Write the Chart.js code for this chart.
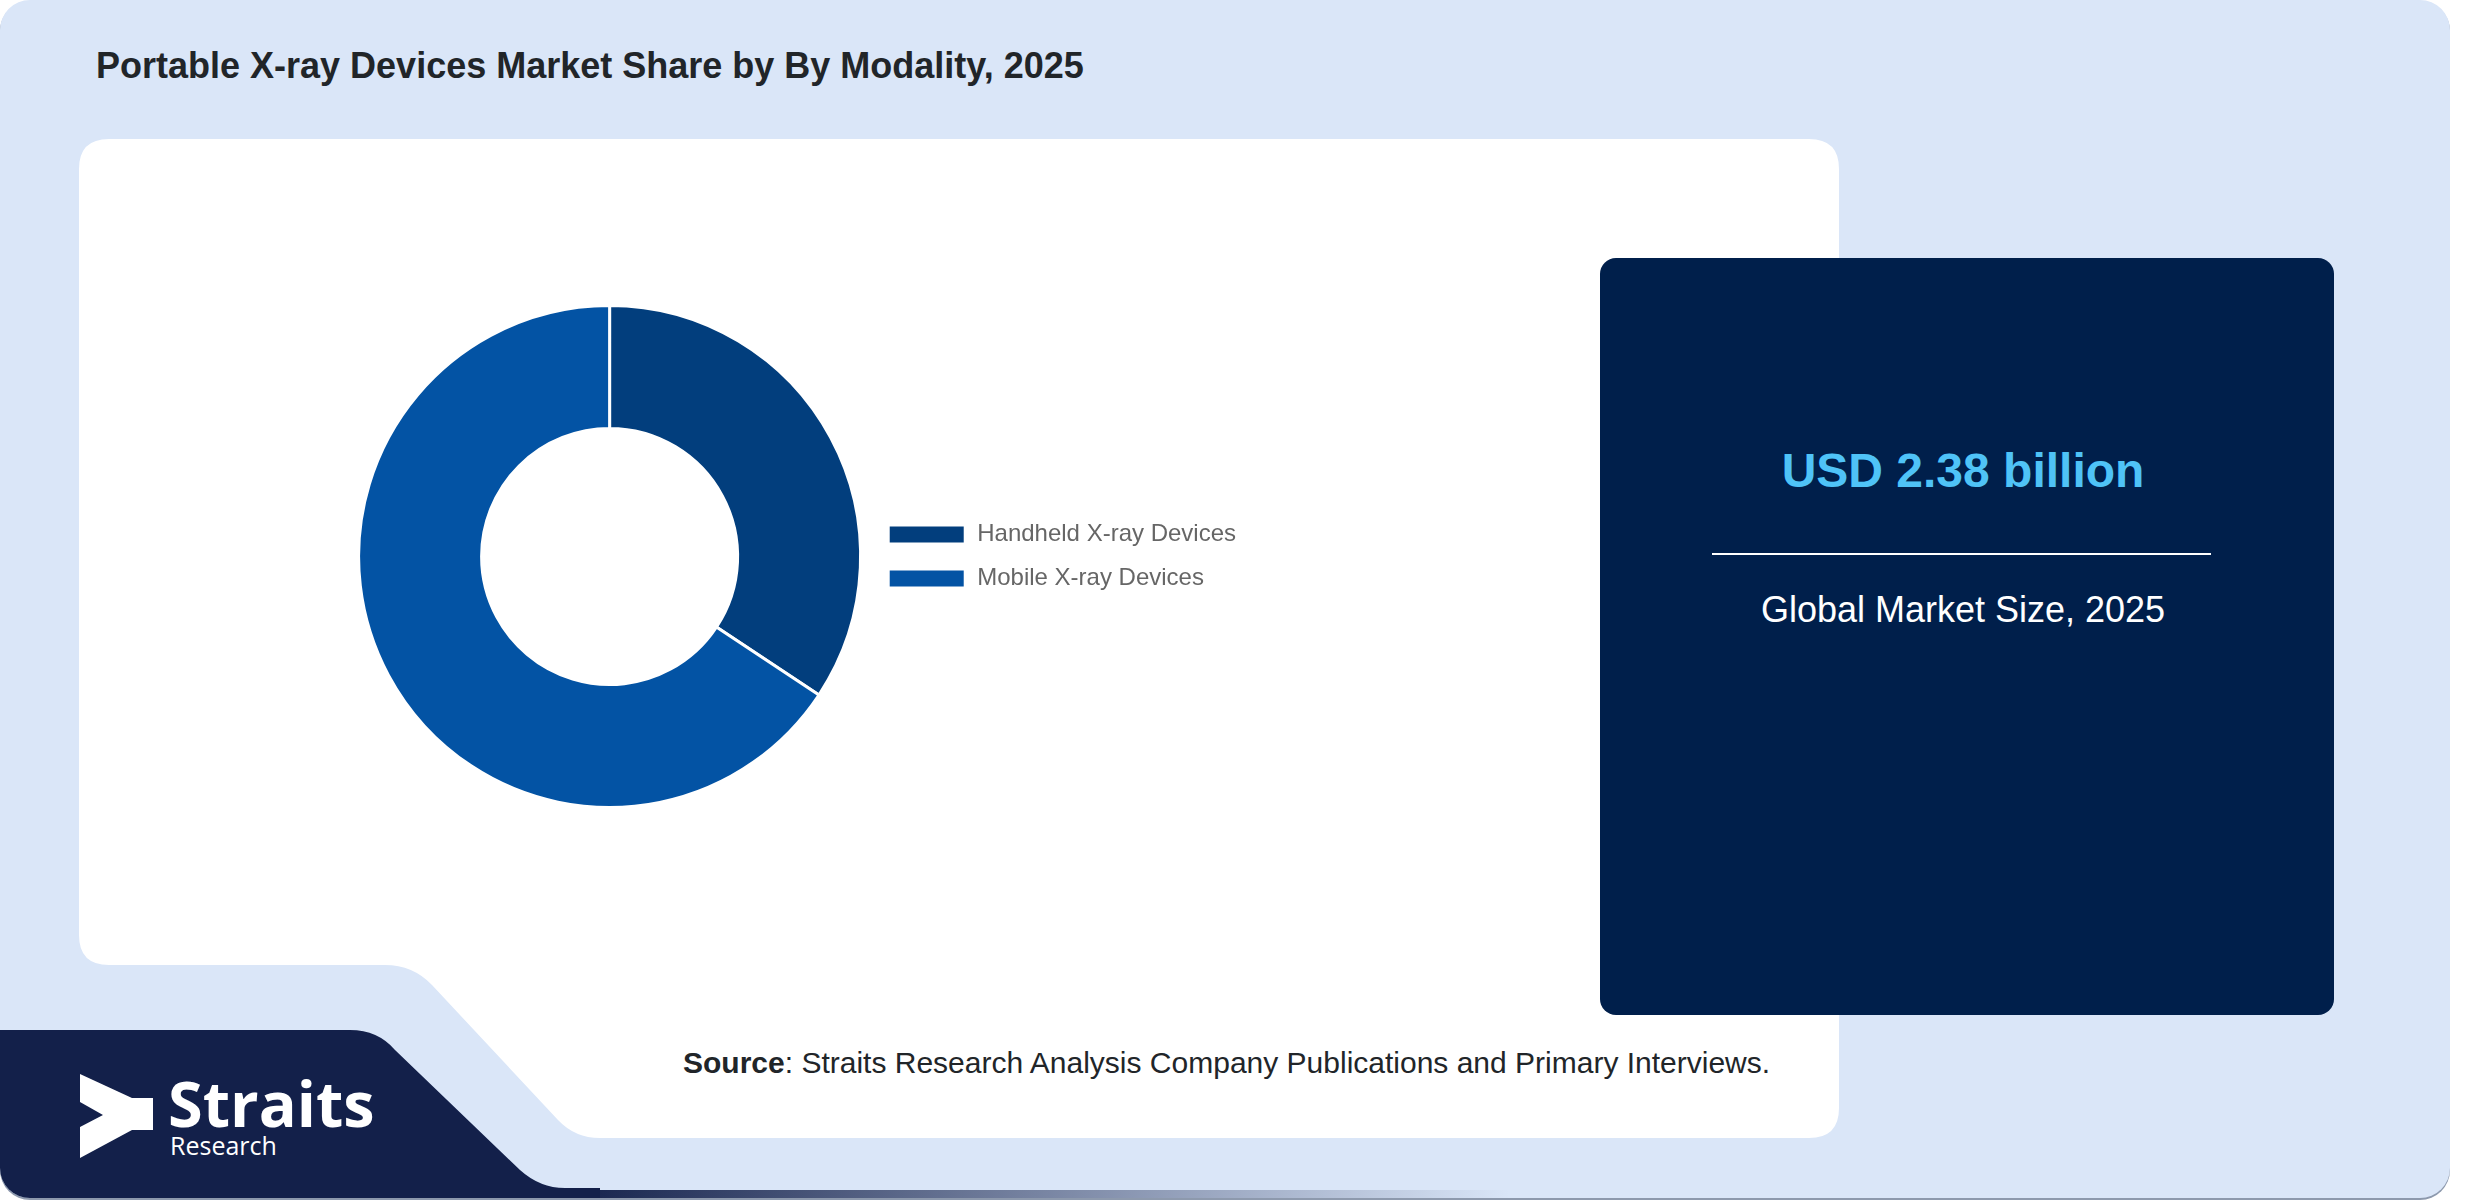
<!DOCTYPE html>
<html>
<head>
<meta charset="utf-8">
<title>Portable X-ray Devices Market Share by By Modality, 2025</title>
<script src="https://cdn.jsdelivr.net/npm/chart.js@4.4.1/dist/chart.umd.min.js"></script>
<style>
  html, body { margin: 0; padding: 0; background: #ffffff; }
  body { width: 2480px; height: 1200px; position: relative; overflow: hidden; font-family: "Liberation Sans", Arial, sans-serif; }
  #bg { position: absolute; left: 0; top: 0; }
  #chartBox { position: absolute; left: 351px; top: 304px; width: 895px; height: 505px; }
</style>
</head>
<body>
<svg id="bg" width="2480" height="1200" viewBox="0 0 2480 1200">
  <defs>
    <clipPath id="frame">
      <rect x="0" y="0" width="2450" height="1198" rx="30" ry="30"/>
    </clipPath>
    <linearGradient id="bottomFade" x1="0" x2="1" y1="0" y2="0">
      <stop offset="0" stop-color="#13204a" stop-opacity="1"/>
      <stop offset="1" stop-color="#13204a" stop-opacity="0"/>
    </linearGradient>
  </defs>
  <rect x="0" y="1" width="2450" height="1199" rx="30" ry="30" fill="#8d99ad"/>
  <g clip-path="url(#frame)">
    <rect x="0" y="0" width="2450" height="1198" fill="#dae6f8"/>
    <!-- white panel with the cut corner -->
    <path d="M 109 139 H 1809 Q 1839 139 1839 169 V 1108 Q 1839 1138 1809 1138 H 600 Q 575 1138 558 1120 L 432 985 Q 413 965 385 965 H 109 Q 79 965 79 935 V 169 Q 79 139 109 139 Z" fill="#ffffff"/>
    <!-- logo band -->
    <path d="M 0 1030 H 350 Q 378 1030 395 1050 L 520 1170 Q 540 1188 565 1188 H 600 V 1200 H 0 Z" fill="#13204a"/>
    <rect x="560" y="1190" width="950" height="10" fill="url(#bottomFade)"/>
  </g>
  <!-- market size card -->
  <rect x="1600" y="258" width="734" height="757" rx="16" ry="16" fill="#001f4b"/>
  <line x1="1712" y1="554" x2="2211" y2="554" stroke="#ffffff" stroke-width="2"/>
  <text x="1963" y="487" text-anchor="middle" font-family="Liberation Sans, Arial, sans-serif" font-weight="bold" font-size="48" fill="#4fc3f7">USD 2.38 billion</text>
  <text x="1963" y="622" text-anchor="middle" font-family="Liberation Sans, Arial, sans-serif" font-size="36" fill="#ffffff">Global Market Size, 2025</text>

  <text x="96" y="78" font-family="Liberation Sans, Arial, sans-serif" font-weight="bold" font-size="36" fill="#212529">Portable X-ray Devices Market Share by By Modality, 2025</text>
  <text x="683" y="1073" font-family="Liberation Sans, Arial, sans-serif" font-size="30" fill="#212529"><tspan font-weight="bold">Source</tspan>: Straits Research Analysis Company Publications and Primary Interviews.</text>

  <!-- Straits Research logo -->
  <polygon points="80,1074 132,1098 153,1098 153,1130 132,1130 80,1158 80,1127 103,1115 80,1102" fill="#ffffff"/>
  <text x="168" y="1127" font-family="Open Sans, sans-serif" font-weight="bold" font-size="63" fill="#ffffff">Straits</text>
  <text x="170" y="1155" font-family="Open Sans, sans-serif" font-size="25" fill="#ffffff">Research</text>
</svg>

<div id="chartBox"><canvas id="shareChart"></canvas></div>

<script>
const segmentLabels = ['Handheld X-ray Devices', 'Mobile X-ray Devices'];
const segmentShares = [34.3, 65.7];
const segmentColors = ['#023e7d', '#0353a4'];

document.addEventListener("DOMContentLoaded", function () {
  const ctx = document.getElementById('shareChart').getContext('2d');

  new Chart(ctx, {
    type: 'doughnut',
    data: {
      labels: segmentLabels,
      datasets: [{
        data: segmentShares,
        backgroundColor: segmentColors,
        borderColor: '#ffffff',
        borderWidth: 3,
        hoverBorderWidth: 3,
        hoverOffset: 0
      }]
    },
    options: {
      responsive: true,
      maintainAspectRatio: false,
      animation: false,
      cutout: '51%',
      layout: { padding: 0 },
      plugins: {
        legend: {
          position: 'right',
          labels: {
            boxWidth: 77,
            boxHeight: 19,
            padding: 20,
            color: '#666666',
            font: { family: "'Liberation Sans', Arial, sans-serif", size: 24 }
          }
        },
        tooltip: { enabled: false }
      }
    }
  });
});
</script>
</body>
</html>
